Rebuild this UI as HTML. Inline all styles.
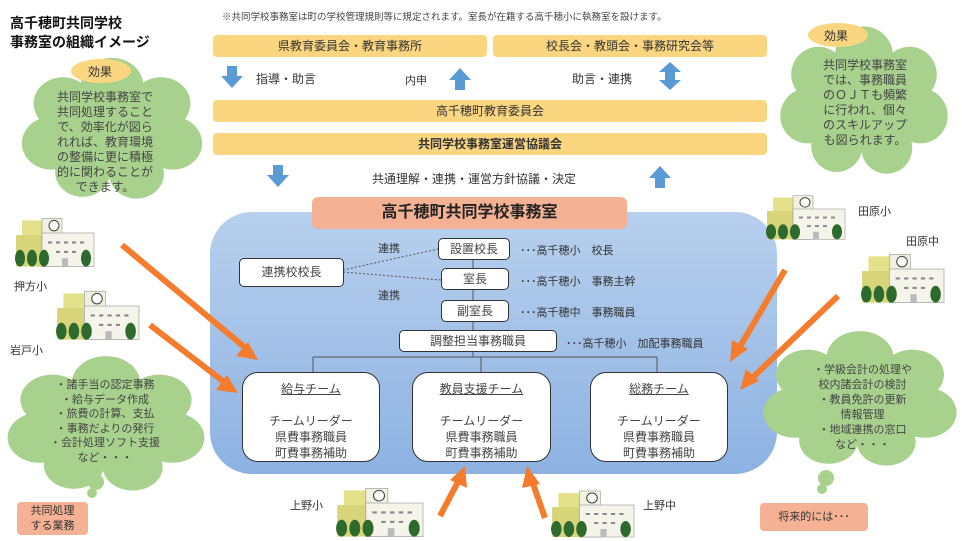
<!DOCTYPE html>
<html><head><meta charset="utf-8"><style>
body{margin:0;width:962px;height:541px;background:#fff;position:relative;overflow:hidden;font-family:"Liberation Sans","Noto Sans CJK JP",sans-serif;color:#333}
.a{position:absolute;white-space:nowrap}
.bar{position:absolute;background:#fad680;border-radius:4px;text-align:center;font-size:12px;line-height:22px;color:#333}
.box{position:absolute;background:#fff;border:1.5px solid #333;border-radius:5px;text-align:center;font-size:12px;color:#444}
.team{position:absolute;background:#fff;border:1.5px solid #333;border-radius:16px;text-align:center;font-size:12px;color:#444;line-height:16px;padding-top:8px;box-sizing:border-box}
.t{font-size:11.5px;color:#444;text-align:center;line-height:16px}
</style></head><body>
<svg width="962" height="541" style="position:absolute;left:0;top:0">
<defs>
<linearGradient id="bg" x1="0" y1="0" x2="0" y2="1"><stop offset="0" stop-color="#b8d0ee"/><stop offset="1" stop-color="#8db2e2"/></linearGradient>
<g id="sch">
<rect x="8" y="8" width="22" height="42" fill="#e5e08a"/>
<rect x="2" y="22" width="26" height="30" fill="#d8d47a"/>
<rect x="28" y="6" width="20" height="46" fill="#f1f1e0" stroke="#999" stroke-width=".6"/>
<rect x="28" y="20" width="52" height="32" fill="#f4f4ea" stroke="#999" stroke-width=".6"/>
<circle cx="40" cy="13" r="5" fill="#fff" stroke="#444"/>
<g fill="#888"><rect x="34" y="28" width="4" height="2"/><rect x="42" y="28" width="4" height="2"/><rect x="50" y="28" width="4" height="2"/><rect x="58" y="28" width="4" height="2"/><rect x="66" y="28" width="4" height="2"/><rect x="42" y="37" width="4" height="2"/><rect x="50" y="37" width="4" height="2"/><rect x="58" y="37" width="4" height="2"/></g>
<rect x="48" y="44" width="6" height="8" fill="#bbb"/>
<g fill="#2e6a2e"><ellipse cx="6" cy="44" rx="5" ry="8"/><ellipse cx="18" cy="44" rx="5" ry="8"/><ellipse cx="30" cy="44" rx="5" ry="8"/><ellipse cx="72" cy="44" rx="5" ry="8"/></g>
</g>
<g id="cl" fill="#a9d18e">
<ellipse cx="0" cy="0" rx="70" ry="55"/><circle cx="-50" cy="-30" r="30"/><circle cx="0" cy="-50" r="32"/><circle cx="50" cy="-30" r="30"/><circle cx="-62" cy="15" r="30"/><circle cx="62" cy="15" r="30"/><circle cx="-30" cy="48" r="28"/><circle cx="25" cy="50" r="28"/>
</g>
</defs>
<rect x="210" y="212" width="567" height="262" rx="42" fill="url(#bg)"/>
<g transform="translate(112,130) scale(0.98,0.88)"><use href="#cl"/></g>
<g transform="translate(106,425) scale(1.07,0.84)"><use href="#cl"/></g>
<circle cx="96" cy="482" r="8" fill="#a9d18e"/><circle cx="92" cy="493" r="5" fill="#a9d18e"/>
<g transform="translate(864,102) scale(0.91,0.92)"><use href="#cl"/></g>
<g transform="translate(860,400) scale(1.05,0.84)"><use href="#cl"/></g>
<circle cx="826" cy="478" r="8" fill="#a9d18e"/><circle cx="822" cy="489" r="5" fill="#a9d18e"/>
<ellipse cx="101" cy="71" rx="30" ry="12" fill="#fad680"/>
<ellipse cx="838" cy="35" rx="30" ry="12" fill="#fad680"/>
<g fill="#5b9bd5">
<path d="M227 66h10v10h6l-11 12-11-12h6z"/>
<path d="M455 90v-10h-6l11-12 11 12h-6v10z"/>
<path d="M665 76v-4h-6l11-10 11 10h-6v8h6l-11 10-11-10h6z"/>
<path d="M273 165h10v10h6l-11 12-11-12h6z"/>
<path d="M655 188v-10h-6l11-12 11 12h-6v10z"/>
</g>
<g stroke="#555" stroke-width="1" fill="none">
<path d="M473 259v10M473 290v10M473 321v10M473 352v5M313 357h344M313 357v15M481 357v15M657 357v15"/>
<path d="M343 270L438 249M343 272L441 280" stroke-dasharray="2,2"/>
</g>
<use href="#sch" transform="translate(14,212) scale(1,1.05)"/>
<use href="#sch" transform="translate(55,285) scale(1.05,1.05)"/>
<use href="#sch" transform="translate(765,190) scale(1,0.95)"/>
<use href="#sch" transform="translate(860,248) scale(1.05,1.05)"/>
<use href="#sch" transform="translate(335,482) scale(1.1,1.05)"/>
<use href="#sch" transform="translate(550,485) scale(1.05,1.0)"/>
<g stroke="#f47c2c" stroke-width="6" fill="#f47c2c">
<line x1="122" y1="245" x2="248" y2="350"/><path d="M258 360l-22-4 12-14z" stroke="none"/>
<line x1="150" y1="325" x2="228" y2="385"/><path d="M238 393l-22-3 11-15z" stroke="none"/>
<line x1="785" y1="270" x2="738" y2="350"/><path d="M730 362l2-22 16 9z" stroke="none"/>
<line x1="838" y1="296" x2="750" y2="380"/><path d="M740 390l6-21 13 12z" stroke="none"/>
<line x1="440" y1="516" x2="460" y2="478"/><path d="M465 466l2 22-17-8z" stroke="none"/>
<line x1="545" y1="518" x2="531" y2="478"/><path d="M527 466l13 18-18 4z" stroke="none"/>
</g>
</svg>
<div class="a" style="left:10px;top:14px;font-size:14px;font-weight:bold;color:#111;line-height:19px">高千穂町共同学校<br>事務室の組織イメージ</div>
<div class="a" style="left:222px;top:9px;font-size:9.5px;color:#444">※共同学校事務室は町の学校管理規則等に規定されます。室長が在籍する高千穂小に執務室を設けます。</div>
<div class="bar" style="left:213px;top:35px;width:274px">県教育委員会・教育事務所</div>
<div class="bar" style="left:493px;top:35px;width:274px">校長会・教頭会・事務研究会等</div>
<div class="a" style="left:256px;top:70px;font-size:12px">指導・助言</div>
<div class="a" style="left:405px;top:72px;font-size:11px">内申</div>
<div class="a" style="left:572px;top:70px;font-size:12px">助言・連携</div>
<div class="bar" style="left:213px;top:100px;width:554px">高千穂町教育委員会</div>
<div class="bar" style="left:213px;top:133px;width:554px;font-weight:bold">共同学校事務室運営協議会</div>
<div class="a" style="left:372px;top:170px;font-size:12px">共通理解・連携・運営方針協議・決定</div>
<div class="a" style="left:312px;top:197px;width:315px;height:32px;background:#f5b194;border-radius:6px;text-align:center;font-size:16px;font-weight:bold;line-height:32px;color:#222">高千穂町共同学校事務室</div>
<div class="box" style="left:438px;top:238px;width:70px;height:20px;line-height:20px">設置校長</div>
<div class="box" style="left:441px;top:268px;width:66px;height:20px;line-height:20px">室長</div>
<div class="box" style="left:441px;top:300px;width:66px;height:20px;line-height:20px">副室長</div>
<div class="box" style="left:399px;top:330px;width:156px;height:20px;line-height:20px">調整担当事務職員</div>
<div class="box" style="left:239px;top:258px;width:103px;height:27px;line-height:27px">連携校校長</div>
<div class="a" style="left:378px;top:240px;font-size:11px">連携</div>
<div class="a" style="left:378px;top:287px;font-size:11px">連携</div>
<div class="a" style="left:520px;top:242px;font-size:11px">･･･高千穂小　校長</div>
<div class="a" style="left:520px;top:273px;font-size:11px">･･･高千穂小　事務主幹</div>
<div class="a" style="left:520px;top:304px;font-size:11px">･･･高千穂中　事務職員</div>
<div class="a" style="left:566px;top:335px;font-size:11px">･･･高千穂小　加配事務職員</div>
<div class="team" style="left:242px;top:372px;width:138px;height:90px"><u>給与チーム</u><br><br>チームリーダー<br>県費事務職員<br>町費事務補助</div>
<div class="team" style="left:412px;top:372px;width:139px;height:90px"><u>教員支援チーム</u><br><br>チームリーダー<br>県費事務職員<br>町費事務補助</div>
<div class="team" style="left:590px;top:372px;width:138px;height:90px"><u>総務チーム</u><br><br>チームリーダー<br>県費事務職員<br>町費事務補助</div>
<div class="a" style="left:88px;top:63px;font-size:12px">効果</div>
<div class="a" style="left:824px;top:27px;font-size:12px">効果</div>
<div class="a t" style="left:30px;top:90px;width:150px;font-size:12px;line-height:15px">共同学校事務室で<br>共同処理すること<br>で、効率化が図ら<br>れれば、教育環境<br>の整備に更に積極<br>的に関わることが<br>できます。</div>
<div class="a t" style="left:790px;top:58px;width:150px;font-size:12px;line-height:15px">共同学校事務室<br>では、事務職員<br>のＯＪＴも頻繁<br>に行われ、個々<br>のスキルアップ<br>も図られます。</div>
<div class="a t" style="left:25px;top:378px;width:160px;font-size:11px;line-height:14.5px">・諸手当の認定事務<br>・給与データ作成<br>・旅費の計算、支払<br>・事務だよりの発行<br>・会計処理ソフト支援<br>など・・・</div>
<div class="a t" style="left:785px;top:363px;width:155px;font-size:11px;line-height:15px">・学級会計の処理や<br>校内諸会計の検討<br>・教員免許の更新<br>情報管理<br>・地域連携の窓口<br>など・・・</div>
<div class="a" style="left:17px;top:502px;width:71px;height:33px;background:#f5b194;border-radius:4px;font-size:11px;line-height:15px;text-align:center;padding-top:2px;box-sizing:border-box">共同処理<br>する業務</div>
<div class="a" style="left:760px;top:503px;width:108px;height:28px;background:#f5b194;border-radius:4px;font-size:11px;line-height:28px;text-align:center">将来的には･･･</div>
<div class="a" style="left:14px;top:278px;font-size:11px">押方小</div>
<div class="a" style="left:10px;top:342px;font-size:11px">岩戸小</div>
<div class="a" style="left:858px;top:203px;font-size:11px">田原小</div>
<div class="a" style="left:906px;top:233px;font-size:11px">田原中</div>
<div class="a" style="left:290px;top:497px;font-size:11px">上野小</div>
<div class="a" style="left:643px;top:497px;font-size:11px">上野中</div>
</body></html>
